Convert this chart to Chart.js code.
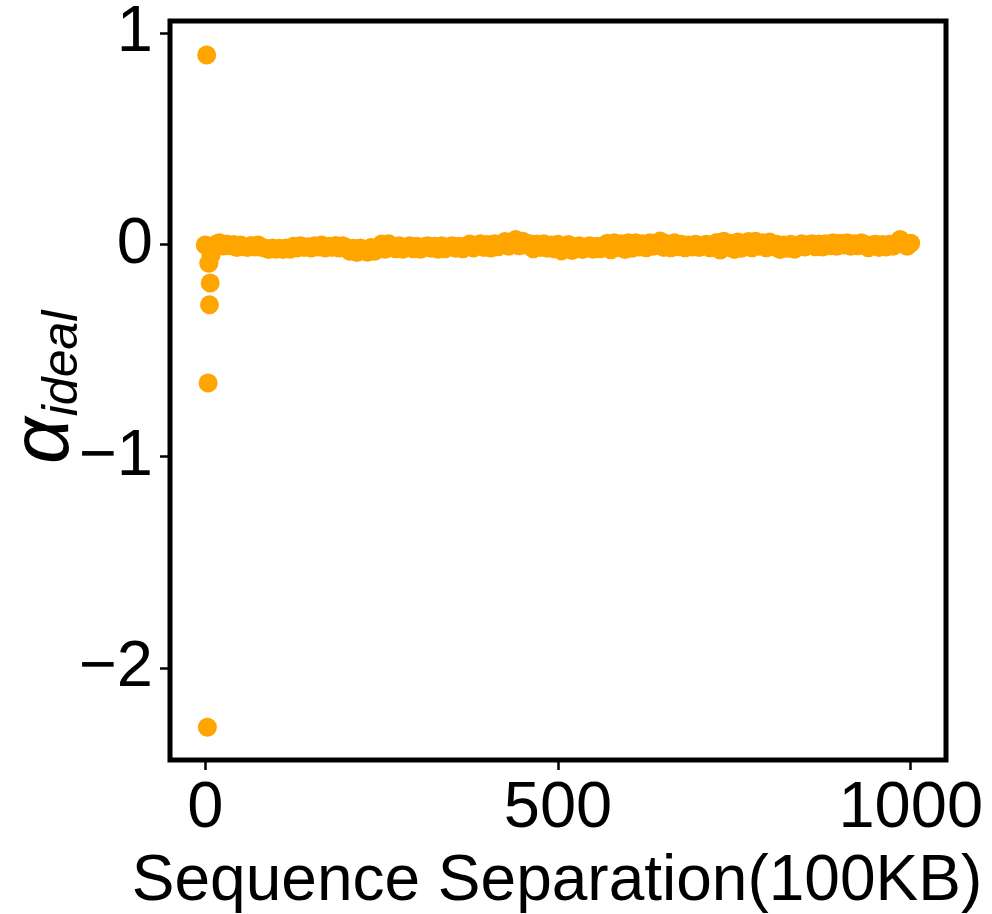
<!DOCTYPE html>
<html lang="en">
<head>
    <meta charset="UTF-8">
    <title>Alpha ideal vs sequence separation</title>
    <script src="https://cdn.jsdelivr.net/npm/chart.js"></script>
    <style>
        body {
            margin: 0;
            background-color: #ffffff;
        }
        canvas {
            display: block;
        }
    </style>
</head>
<body>
    <canvas id="alphaChart" width="992" height="914"></canvas>

    <script>
        // values
        const separation = [
            0, 2, 3, 4, 5, 6, 7, 8,
            10, 15, 20, 25, 30, 35, 40, 45, 50, 55, 60, 65, 70, 75, 80, 85, 90, 95, 100,
            105, 110, 115, 120, 125, 130, 135, 140, 145, 150, 155, 160, 165, 170, 175, 180, 185, 190, 195, 200,
            205, 210, 215, 220, 225, 230, 235, 240, 245, 250, 255, 260, 265, 270, 275, 280, 285, 290, 295, 300,
            305, 310, 315, 320, 325, 330, 335, 340, 345, 350, 355, 360, 365, 370, 375, 380, 385, 390, 395, 400,
            405, 410, 415, 420, 425, 430, 435, 440, 445, 450, 455, 460, 465, 470, 475, 480, 485, 490, 495, 500,
            505, 510, 515, 520, 525, 530, 535, 540, 545, 550, 555, 560, 565, 570, 575, 580, 585, 590, 595, 600,
            605, 610, 615, 620, 625, 630, 635, 640, 645, 650, 655, 660, 665, 670, 675, 680, 685, 690, 695, 700,
            705, 710, 715, 720, 725, 730, 735, 740, 745, 750, 755, 760, 765, 770, 775, 780, 785, 790, 795, 800,
            805, 810, 815, 820, 825, 830, 835, 840, 845, 850, 855, 860, 865, 870, 875, 880, 885, 890, 895, 900,
            905, 910, 915, 920, 925, 930, 935, 940, 945, 950, 955, 960, 965, 970, 975, 980, 985, 990, 995, 1000
        ];
        const alphaIdeal = [
            0.0, 0.897, -2.278, -0.652, -0.086, -0.283, -0.18, -0.05,
            -0.01, 0.003, 0.011, -0.005, 0.004, -0.004, 0.002, -0.012, 0.0, -0.008, -0.012, -0.002, -0.01, 0.0, -0.012, -0.015, -0.022, -0.014, -0.02,
            -0.016, -0.022, -0.014, -0.02, -0.006, -0.014, -0.004, -0.012, -0.008, -0.014, -0.004, -0.01, 0.0, -0.014, -0.006, -0.012, -0.002, -0.014, -0.004, -0.012,
            -0.03, -0.016, -0.036, -0.014, -0.026, -0.034, -0.012, -0.03, -0.02, 0.004, -0.02, 0.006, -0.012, -0.018, -0.004, -0.02, -0.01, -0.004, -0.018, -0.006,
            -0.02, -0.008, -0.004, -0.016, -0.006, -0.02, -0.004, -0.018, -0.008, -0.004, -0.016, -0.006, -0.018, -0.004, 0.004, -0.014, 0.0, 0.006, -0.012, 0.002,
            -0.014, 0.006, -0.008, 0.004, 0.016, -0.006, 0.01, 0.026, -0.004, 0.018, 0.0, 0.006, -0.018, 0.004, -0.012, 0.006, -0.016, 0.0, -0.018, 0.003,
            -0.028, -0.004, 0.002, -0.026, -0.01, -0.004, -0.021, -0.008, -0.004, -0.02, -0.006, -0.018, -0.004, 0.008, -0.023, 0.011, -0.012, 0.006, -0.022, 0.01,
            -0.016, 0.011, -0.01, 0.006, -0.013, 0.01, -0.006, 0.008, 0.019, -0.012, 0.006, -0.013, 0.01, -0.008, 0.003, -0.013, 0.0, -0.01, 0.003, -0.012,
            -0.002, 0.003, -0.013, 0.0, 0.012, -0.024, 0.018, -0.01, 0.008, -0.022, 0.014, -0.016, 0.006, 0.016, -0.013, 0.018, -0.006, 0.01, -0.013, 0.014,
            -0.008, 0.003, -0.021, 0.0, -0.016, 0.003, -0.02, -0.002, 0.006, -0.01, 0.002, 0.006, -0.008, 0.004, -0.01, 0.006, -0.004, 0.011, -0.006, 0.008,
            0.0, 0.011, -0.006, 0.006, -0.004, 0.01, 0.003, -0.013, 0.0, 0.003, -0.012, 0.002, -0.01, 0.003, -0.006, 0.01, 0.026, 0.004, -0.006, 0.008
        ];
        const xTicks = [0, 500, 1000];
        const yTicks = [-2, -1, 0, 1];

        const fontFamily = '"Liberation Sans", Arial, Helvetica, sans-serif';

        // black box round the plot area
        const frame = {
            id: 'frame',
            afterDatasetsDraw(chart) {
                const { ctx, chartArea } = chart;
                ctx.save();
                ctx.strokeStyle = '#000';
                ctx.lineWidth = 5;
                ctx.strokeRect(chartArea.left, chartArea.top,
                    chartArea.right - chartArea.left, chartArea.bottom - chartArea.top);
                ctx.restore();
            }
        };

        // axis titles; the x one is wider than the plot so Chart.js would squeeze it
        const axisTitles = {
            id: 'axisTitles',
            afterDraw(chart) {
                const ctx = chart.ctx;
                const area = chart.chartArea;
                ctx.save();
                ctx.fillStyle = '#000';
                ctx.textBaseline = 'alphabetic';
                ctx.textAlign = 'center';
                ctx.font = '64px ' + fontFamily;
                ctx.fillText('Sequence Separation(100KB)', (area.left + area.right) / 2 - 1, 900);
                ctx.restore();

                ctx.save();
                ctx.translate(68, 464);
                ctx.rotate(-Math.PI / 2);
                ctx.fillStyle = '#000';
                ctx.textBaseline = 'alphabetic';
                ctx.textAlign = 'left';
                ctx.font = 'italic 82px ' + fontFamily;
                ctx.fillText('\u03b1', 0, 0);
                const w = ctx.measureText('\u03b1').width;
                ctx.font = 'italic 50px ' + fontFamily;
                ctx.fillText('ideal', w + 1, 9);
                ctx.restore();
            }
        };

        const points = separation.map((x, i) => ({ x: x, y: alphaIdeal[i] }));

        new Chart(document.getElementById('alphaChart'), {
            type: 'scatter',
            data: {
                datasets: [{
                    data: points,
                    backgroundColor: '#FFA500',
                    borderWidth: 0,
                    pointRadius: 9.5,
                    pointHoverRadius: 9.5
                }]
            },
            options: {
                responsive: false,
                animation: false,
                devicePixelRatio: 1,
                layout: {
                    padding: { top: 21, right: 46, left: 0, bottom: 0 }
                },
                plugins: {
                    legend: { display: false },
                    tooltip: { enabled: false }
                },
                scales: {
                    x: {
                        type: 'linear',
                        position: 'bottom',
                        min: -50,
                        max: 1050,
                        afterBuildTicks: s => { s.ticks = xTicks.map(v => ({ value: v })); },
                        afterFit: s => {
                            s.height = 154;
                            s.paddingLeft = 0;
                            s.paddingRight = 0;
                        },
                        border: { display: false },
                        grid: {
                            drawOnChartArea: false,
                            tickLength: 10,
                            tickWidth: 2.5,
                            color: '#000'
                        },
                        ticks: {
                            color: '#000',
                            padding: 0,
                            maxRotation: 0,
                            font: { size: 65, family: fontFamily },
                            callback: v => String(v)
                        }
                    },
                    y: {
                        min: -2.433,
                        max: 1.058,
                        afterBuildTicks: s => { s.ticks = yTicks.map(v => ({ value: v })); },
                        afterFit: s => {
                            s.width = 170;
                            s.paddingTop = 0;
                            s.paddingBottom = 0;
                        },
                        border: { display: false },
                        grid: {
                            drawOnChartArea: false,
                            tickLength: 10,
                            tickWidth: 2.5,
                            color: '#000'
                        },
                        ticks: {
                            color: '#000',
                            padding: 7,
                            font: { size: 65, family: fontFamily },
                            callback: v => String(v).replace('-', '\u2212')
                        }
                    }
                }
            },
            plugins: [frame, axisTitles]
        });
    </script>
</body>
</html>
